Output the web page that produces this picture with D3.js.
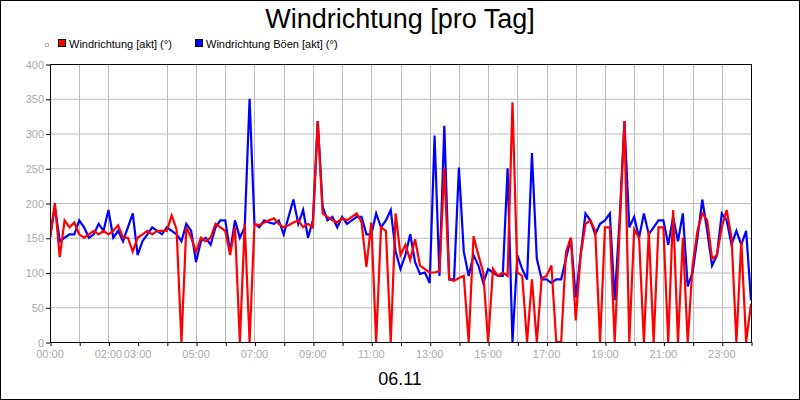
<!DOCTYPE html>
<html><head><meta charset="utf-8">
<script src="https://cdn.jsdelivr.net/npm/d3@7"></script>
<style>body{margin:0;background:#fff}svg{display:block;font-family:"Liberation Sans",Arial,sans-serif}</style>
</head><body><svg id="c" width="800" height="400"></svg>
<script>
// values every 10 minutes from 00:00 to 24:00
const windAkt = [
150,200,122,175,165,172, 155,150,155,160,155,160, 155,160,168,150,150,130, 150,155,160,155,160,160,
160,182,162,0,165,150, 130,150,145,150,170,165, 160,125,165,0,170,0, 170,168,172,175,178,170,
165,168,172,175,165,170, 165,318,185,180,175,172, 178,175,180,185,172,108, 172,0,165,160,0,185,
125,140,118,148,110,105, 100,100,102,250,90,88, 92,95,0,152,125,100, 0,105,95,100,95,345,
100,95,0,90,0,92, 95,110,0,0,130,150, 31,125,170,175,160,0, 165,165,0,160,318,0,
162,150,0,160,0,165, 165,0,190,0,150,0, 110,160,185,175,120,125, 165,190,150,0,145,0, 55];
const windBoeen = [
150,195,145,150,155,155, 175,165,150,155,170,160, 190,150,160,145,165,185, 125,145,155,165,160,155,
165,160,155,145,170,160, 115,145,150,140,165,175, 175,130,175,150,165,350, 170,165,175,172,170,175,
155,180,205,170,190,150, 175,318,195,175,180,165, 180,170,175,180,180,155, 155,185,165,175,190,130,
105,125,155,115,98,100, 85,297,95,311,90,90, 251,130,95,125,110,85, 105,100,95,95,250,0,
125,105,90,272,120,90, 90,85,90,90,120,150, 64,125,185,175,155,170, 175,185,60,175,318,165,
180,150,185,155,165,175, 175,140,180,145,185,80, 100,150,205,160,110,125, 185,175,140,160,140,160, 60];
const yTicks = [0,50,100,150,200,250,300,350,400];
const xTickLabels = ["00:00","02:00","03:00","05:00","07:00","09:00","11:00","13:00","15:00","17:00","19:00","21:00","23:00"];
const xLabelHours = [0,2,3,5,7,9,11,13,15,17,19,21,23];
const gridHours = [0,1,2,4,5,6,7,8,9,10,11,12,13,14,15,16,17,18,19,20,21,22,23,24];

const svg = d3.select("#c");
svg.append("rect").attr("x",0.5).attr("y",0.5).attr("width",799).attr("height",399).attr("fill","#fff").attr("stroke","#000");
const L=50,R=751,T=64,B=342;
const x = d3.scaleLinear().domain([0,24]).range([L,R]);
const y = d3.scaleLinear().domain([0,400]).range([B,T]);

svg.append("text").attr("x",400).attr("y",28).attr("text-anchor","middle").attr("font-size",27).text("Windrichtung [pro Tag]");
// legend
svg.append("rect").attr("x",45.5).attr("y",43.5).attr("width",3).attr("height",3).attr("fill","none").attr("stroke","#bbb");
const leg=[{t:"Windrichtung [akt] (°)",c:"#f00",x:58},{t:"Windrichtung Böen [akt] (°)",c:"#00f",x:195}];
leg.forEach(d=>{
  svg.append("rect").attr("x",d.x+0.5).attr("y",39.5).attr("width",7).attr("height",7).attr("fill",d.c).attr("stroke","#000");
  svg.append("text").attr("x",d.x+11).attr("y",48).attr("font-size",11).text(d.t);
});
// grid
svg.append("g").selectAll("line").data(yTicks).join("line")
  .attr("x1",L).attr("x2",R).attr("y1",d=>y(d)+0.5).attr("y2",d=>y(d)+0.5).attr("stroke","#bbb");
svg.append("g").selectAll("line").data(gridHours).join("line")
  .attr("x1",d=>Math.round(x(d))+0.5).attr("x2",d=>Math.round(x(d))+0.5).attr("y1",T).attr("y2",B).attr("stroke","#bbb");
// axes
const ya = svg.append("g").attr("transform",`translate(${L},0.5)`)
  .call(d3.axisLeft(y).tickValues(yTicks).tickSize(4).tickPadding(2));
ya.select(".domain").remove();
ya.selectAll("line").attr("stroke","#000");
ya.selectAll("text").attr("fill","#aaa").attr("font-size",11).attr("font-family","Liberation Sans,Arial");
const xa = svg.append("g").attr("transform",`translate(0.5,${B})`)
  .call(d3.axisBottom(x).tickValues(d3.range(0,25)).tickSize(4).tickFormat(()=>""));
xa.select(".domain").remove();
xa.selectAll("line").attr("stroke","#000");
svg.append("g").selectAll("text").data(xLabelHours).join("text")
  .attr("x",(d)=>x(d)).attr("y",358).attr("text-anchor","middle").attr("font-size",11).attr("fill","#aaa")
  .text((d,i)=>xTickLabels[i]);
svg.append("text").attr("x",400).attr("y",385).attr("text-anchor","middle").attr("font-size",18).text("06.11");
// lines
const clip = svg.append("clipPath").attr("id","pc").append("rect").attr("x",L).attr("y",T-2).attr("width",R-L).attr("height",B-T+2);
const line = d3.line().x((d,i)=>x(i/6)).y(d=>y(d));
svg.append("path").datum(windBoeen).attr("d",line).attr("fill","none").attr("stroke","#00f").attr("stroke-width",2.2).attr("clip-path","url(#pc)");
svg.append("path").datum(windAkt).attr("d",line).attr("fill","none").attr("stroke","#f00").attr("stroke-width",2.2).attr("clip-path","url(#pc)");
// frame
svg.append("rect").attr("x",L+0.5).attr("y",T+0.5).attr("width",R-L).attr("height",B-T).attr("fill","none").attr("stroke","#000");
</script></body></html>
